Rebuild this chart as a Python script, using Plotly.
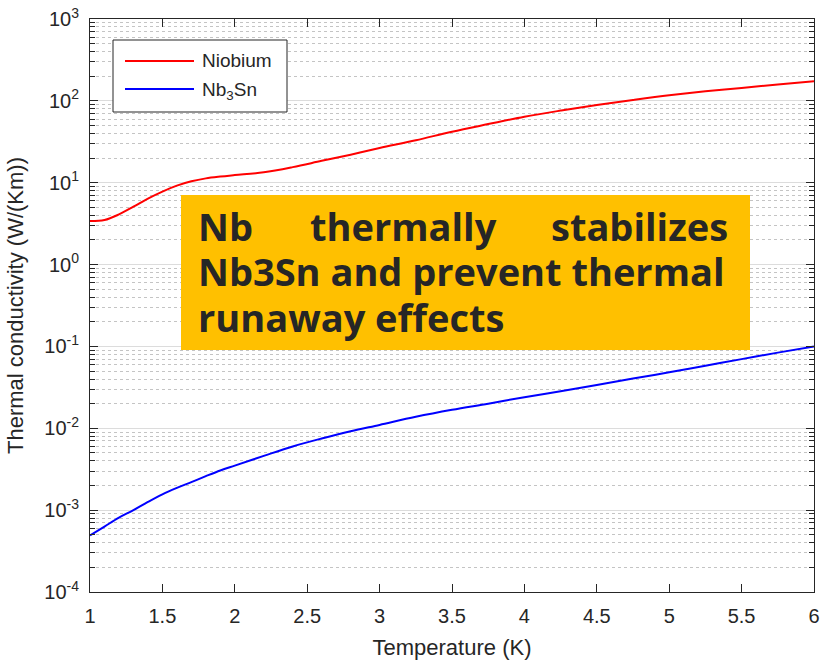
import plotly.graph_objects as go

# ---- data ----
temp_nb = [1.0, 1.1, 1.2, 1.3, 1.4, 1.5, 1.6, 1.7, 1.8, 1.9, 2.0, 2.2, 2.4, 2.6, 2.8,
           3.0, 3.25, 3.5, 3.75, 4.0, 4.25, 4.5, 4.75, 5.0, 5.25, 5.5, 5.75, 6.0]
k_nb = [3.4, 3.5, 4.1, 5.1, 6.4, 7.8, 9.2, 10.4, 11.3, 11.9, 12.4, 13.4, 15.5, 18.5, 22.0,
        26.5, 33.0, 42.0, 52.0, 64.0, 76.0, 89.0, 102.5, 117.0, 131.0, 144.0, 158.0, 173.0]

temp_nb3sn = [1.0, 1.1, 1.2, 1.3, 1.4, 1.5, 1.6, 1.7, 1.8, 1.9, 2.0, 2.2, 2.4, 2.6, 2.8,
              3.0, 3.25, 3.5, 3.75, 4.0, 4.25, 4.5, 4.75, 5.0, 5.25, 5.5, 5.75, 6.0]
k_nb3sn = [4.9e-4, 6.3e-4, 8.1e-4, 1.0e-3, 1.26e-3, 1.56e-3, 1.87e-3, 2.2e-3, 2.6e-3, 3.05e-3,
           3.5e-3, 4.6e-3, 6.0e-3, 7.5e-3, 9.2e-3, 1.1e-2, 1.38e-2, 1.68e-2, 2.0e-2, 2.4e-2,
           2.84e-2, 3.39e-2, 4.05e-2, 4.83e-2, 5.8e-2, 7.0e-2, 8.4e-2, 0.1]

series_names = ["Niobium", "Nb<sub>3</sub>Sn"]
series_colors = ["#ff0000", "#0000ff"]

x_tickvals = [1, 1.5, 2, 2.5, 3, 3.5, 4, 4.5, 5, 5.5, 6]
x_ticktext = ["1", "1.5", "2", "2.5", "3", "3.5", "4", "4.5", "5", "5.5", "6"]
y_tickvals = [1e-4, 1e-3, 1e-2, 1e-1, 1e0, 1e1, 1e2, 1e3]
y_ticktext = ["10<sup>-4</sup>", "10<sup>-3</sup>", "10<sup>-2</sup>", "10<sup>-1</sup>",
              "10<sup>0</sup>", "10<sup>1</sup>", "10<sup>2</sup>", "10<sup>3</sup>"]

x_title = "Temperature (K)"
y_title = "Thermal conductivity (W/(Km))"
note_line1 = ["Nb", "thermally", "stabilizes"]
note_line2 = "Nb3Sn and prevent thermal"
note_line3 = "runaway effects"

# ---- layout geometry (pixels) ----
W, H = 827, 665
L, R, T, B = 90, 13, 19, 73
PW, PH = W - L - R, H - T - B


def px(xp):
    return (xp - L) / PW


def py(yp):
    return (H - B - yp) / PH


AX = "#262626"
FONT = "Liberation Sans, Arial, sans-serif"

fig = go.Figure()
fig.add_trace(go.Scatter(x=temp_nb, y=k_nb, mode="lines", name=series_names[0],
                         line=dict(color=series_colors[0], width=2, shape="spline"),
                         showlegend=False))
fig.add_trace(go.Scatter(x=temp_nb3sn, y=k_nb3sn, mode="lines", name=series_names[1],
                         line=dict(color=series_colors[1], width=2, shape="spline"),
                         showlegend=False))

fig.update_layout(
    width=W, height=H,
    margin=dict(l=L, r=R, t=T, b=B, autoexpand=False),
    paper_bgcolor="white", plot_bgcolor="white",
    font=dict(family=FONT, color=AX, size=19),
    showlegend=False,
)

fig.update_xaxes(
    range=[1, 6], tickmode="array", tickvals=x_tickvals, ticktext=x_ticktext,
    showgrid=False, zeroline=False,
    showline=True, linecolor=AX, linewidth=1, mirror="allticks",
    ticks="inside", ticklen=8, tickcolor=AX, tickwidth=1,
    tickfont=dict(size=20, color=AX), ticklabelstandoff=6,
    title=dict(text=x_title, font=dict(size=22, color=AX), standoff=13),
    automargin=False,
)
fig.update_yaxes(
    type="log", range=[-4, 3], tickmode="array", tickvals=y_tickvals, ticktext=y_ticktext,
    showgrid=True, gridcolor="#dcdcdc", gridwidth=1, zeroline=False,
    showline=True, linecolor=AX, linewidth=1, mirror="allticks",
    ticks="inside", ticklen=8, tickcolor=AX, tickwidth=1,
    tickfont=dict(size=20, color=AX), ticklabelstandoff=6,
    minor=dict(dtick="D1", showgrid=True, gridcolor="#c4c4c4", griddash="dot",
               gridwidth=1, ticks="inside", ticklen=5, tickcolor=AX),
    title=dict(text=y_title, font=dict(size=22, color=AX), standoff=14),
    automargin=False,
)

# legend (drawn manually to get MATLAB-style long samples)
shapes = [
    dict(type="rect", xref="paper", yref="paper", x0=px(113), x1=px(287), y0=py(112), y1=py(40),
         line=dict(color=AX, width=1), fillcolor="white", layer="above"),
    dict(type="line", xref="paper", yref="paper", x0=px(125), x1=px(194), y0=py(61), y1=py(61),
         line=dict(color=series_colors[0], width=2), layer="above"),
    dict(type="line", xref="paper", yref="paper", x0=px(125), x1=px(194), y0=py(89), y1=py(89),
         line=dict(color=series_colors[1], width=2), layer="above"),
    # highlighted note box
    dict(type="rect", xref="paper", yref="paper", x0=px(181), x1=px(750), y0=py(350), y1=py(195),
         line=dict(width=0), fillcolor="#ffc000", layer="above"),
]
annotations = [
    dict(xref="paper", yref="paper", x=px(200), y=py(61), xanchor="left", yanchor="middle",
         text=series_names[0], showarrow=False, font=dict(size=19, color=AX, family=FONT)),
    dict(xref="paper", yref="paper", x=px(200), y=py(91), xanchor="left", yanchor="middle",
         text=series_names[1], showarrow=False, font=dict(size=19, color=AX, family=FONT)),
]

NOTE_FONT = dict(family="Open Sans, Noto Sans, sans-serif", size=38, color="#262626",
                 weight="bold")
line_y = [226, 271, 317]
annotations += [
    dict(xref="paper", yref="paper", x=px(196), y=py(line_y[0]), xanchor="left", yanchor="middle",
         text="<b>%s</b>" % note_line1[0], showarrow=False, font=NOTE_FONT),
    dict(xref="paper", yref="paper", x=px(403), y=py(line_y[0]), xanchor="center", yanchor="middle",
         text="<b>%s</b>" % note_line1[1], showarrow=False, font=NOTE_FONT),
    dict(xref="paper", yref="paper", x=px(730), y=py(line_y[0]), xanchor="right", yanchor="middle",
         text="<b>%s</b>" % note_line1[2], showarrow=False, font=NOTE_FONT),
    dict(xref="paper", yref="paper", x=px(196), y=py(line_y[1]), xanchor="left", yanchor="middle",
         text="<b>%s</b>" % note_line2, showarrow=False, font=NOTE_FONT),
    dict(xref="paper", yref="paper", x=px(196), y=py(line_y[2]), xanchor="left", yanchor="middle",
         text="<b>%s</b>" % note_line3, showarrow=False, font=NOTE_FONT),
]
fig.update_layout(shapes=shapes, annotations=annotations)

fig.write_html("out.html")
